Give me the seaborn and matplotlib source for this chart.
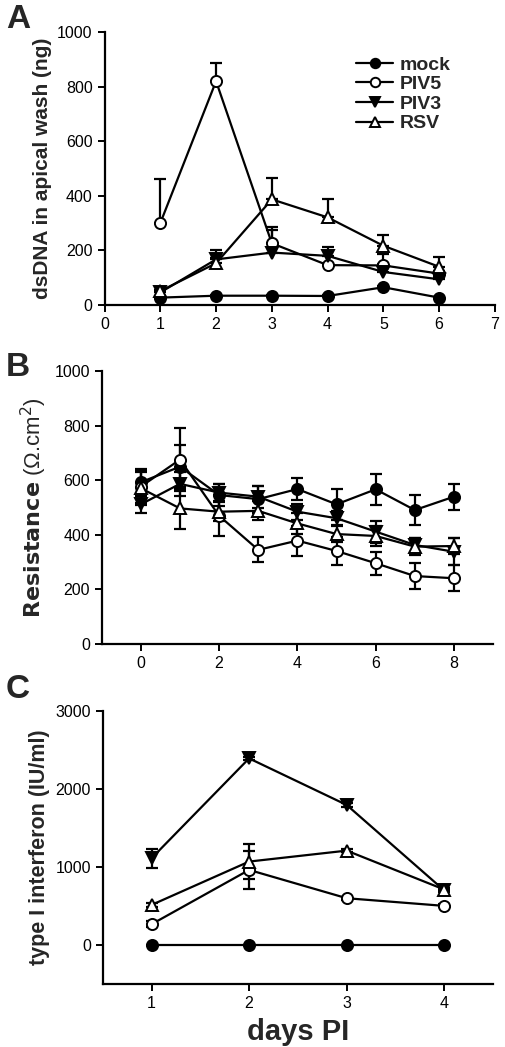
import numpy as np
import pandas as pd
import matplotlib
matplotlib.use("Agg")
import matplotlib.pyplot as plt
import seaborn as sns

sns.set_theme(style="ticks")
plt.rcParams["font.family"] = ["Liberation Sans", "DejaVu Sans"]

# ── Data ──────────────────────────────────────────────────────────────────────
SERIES = ["mock", "PIV5", "PIV3", "RSV"]

# A: dsDNA in apical wash (ng), upper error only
days_a = [1, 2, 3, 4, 5, 6]
dna_mock = [27, 34, 34, 33, 65, 27]
dna_piv5 = [300, 820, 226, 146, 145, 115]
dna_piv3 = [46, 167, 192, 180, 121, 94]
dna_rsv = [51, 153, 387, 321, 217, 140]
dna_mock_err = [4, 4, 4, 4, 6, 4]
dna_piv5_err = [162, 65, 61, 4, 40, 10]
dna_piv3_err = [5, 33, 83, 34, 28, 10]
dna_rsv_err = [5, 20, 77, 66, 39, 36]

# B: transepithelial resistance (ohm.cm2)
days_b = [0, 1, 2, 3, 4, 5, 6, 7, 8]
res_mock = [592, 649, 545, 530, 567, 511, 566, 490, 539]
res_piv5 = [576, 675, 469, 344, 378, 340, 295, 248, 240]
res_piv3 = [511, 586, 554, 539, 484, 460, 411, 362, 337]
res_rsv = [570, 496, 484, 487, 441, 402, 395, 356, 358]
res_mock_err = [50, 80, 40, 50, 40, 58, 58, 55, 47]
res_piv5_err = [60, 115, 75, 46, 55, 50, 42, 47, 48]
res_piv3_err = [30, 45, 30, 40, 30, 25, 40, 25, 50]
res_rsv_err = [60, 77, 35, 35, 40, 30, 35, 30, 30]

# C: type I interferon (IU/ml)
days_c = [1, 2, 3, 4]
ifn_mock = [0, 0, 0, 0]
ifn_piv5 = [268, 963, 601, 503]
ifn_piv3 = [1112, 2390, 1794, 700]
ifn_rsv = [515, 1070, 1210, 712]
ifn_mock_err = [0, 0, 0, 0]
ifn_piv5_err = [40, 240, 20, 20]
ifn_piv3_err = [120, 20, 20, 20]
ifn_rsv_err = [20, 225, 20, 20]

STYLE = {
    "mock": dict(marker="o", mfc="black"),
    "PIV5": dict(marker="o", mfc="white"),
    "PIV3": dict(marker="v", mfc="black"),
    "RSV": dict(marker="^", mfc="white"),
}
MS = 8
LW = 1.6


def draw(ax, x, values, errs, upper_only=False):
    for name, y, e in zip(SERIES, values, errs):
        df = pd.DataFrame({"day": x, "val": y})
        e = np.asarray(e)
        yerr = [np.zeros_like(e), e] if upper_only else e
        ax.errorbar(df["day"], df["val"], yerr=yerr, fmt="none", ecolor="black",
                    elinewidth=LW, capsize=4, capthick=LW, zorder=2)
        sns.lineplot(data=df, x="day", y="val", ax=ax, color="black", lw=LW,
                     marker=STYLE[name]["marker"], markersize=MS,
                     markerfacecolor=STYLE[name]["mfc"], markeredgecolor="black",
                     markeredgewidth=1.4, label=name, legend=False, zorder=3)


def style_axes(ax):
    for s in ["top", "right"]:
        ax.spines[s].set_visible(False)
    for s in ["left", "bottom"]:
        ax.spines[s].set_linewidth(1.6)
        ax.spines[s].set_color("black")
    ax.tick_params(width=1.4, length=5, labelsize=11.5, colors="black")
    ax.set_xlabel("")


fig = plt.figure(figsize=(5.05, 10.47), dpi=100)
ax_a = fig.add_axes([0.207, 0.7087, 0.773, 0.2607])
ax_b = fig.add_axes([0.2014, 0.3852, 0.775, 0.2605])
ax_c = fig.add_axes([0.2034, 0.0599, 0.773, 0.2613])

# ── Panel A ──
draw(ax_a, days_a, [dna_mock, dna_piv5, dna_piv3, dna_rsv],
     [dna_mock_err, dna_piv5_err, dna_piv3_err, dna_rsv_err], upper_only=True)
ax_a.set_xlim(0, 7)
ax_a.set_ylim(0, 1000)
ax_a.set_xticks(range(0, 8))
ax_a.set_yticks(range(0, 1001, 200))
style_axes(ax_a)
ax_a.set_ylabel("dsDNA in apical wash (ng)", fontsize=15, fontweight="bold", labelpad=4)
leg = ax_a.legend(loc="upper left", bbox_to_anchor=(0.645, 0.912), frameon=False,
                  prop={"size": 14, "weight": "bold"}, handlelength=1.9,
                  handletextpad=0.35, labelspacing=0.1, borderaxespad=0,
                  borderpad=0, markerscale=0.85)

# ── Panel B ──
draw(ax_b, days_b, [res_mock, res_piv5, res_piv3, res_rsv],
     [res_mock_err, res_piv5_err, res_piv3_err, res_rsv_err])
ax_b.set_xlim(-1, 9)
ax_b.set_ylim(0, 1000)
ax_b.set_xticks(range(0, 9, 2))
ax_b.set_yticks(range(0, 1001, 200))
style_axes(ax_b)
ax_b.set_ylabel(r"$\bf{Resistance}$ (Ω.cm$^2$)", fontsize=16, labelpad=4)

# ── Panel C ──
draw(ax_c, days_c, [ifn_mock, ifn_piv5, ifn_piv3, ifn_rsv],
     [ifn_mock_err, ifn_piv5_err, ifn_piv3_err, ifn_rsv_err])
ax_c.set_xlim(0.5, 4.5)
ax_c.set_ylim(-500, 3000)
ax_c.set_xticks(range(1, 5))
ax_c.set_yticks(range(0, 3001, 1000))
style_axes(ax_c)
ax_c.set_ylabel("type I interferon (IU/ml)", fontsize=15.5, fontweight="bold", labelpad=4)
ax_c.set_xlabel("days PI", fontsize=21, fontweight="bold", labelpad=5)

for lbl, y in [("A", 0.996), ("B", 0.664), ("C", 0.356)]:
    fig.text(0.012, y, lbl, fontsize=24, fontweight="bold", va="top", ha="left")

fig.savefig("out.png", dpi=100)
